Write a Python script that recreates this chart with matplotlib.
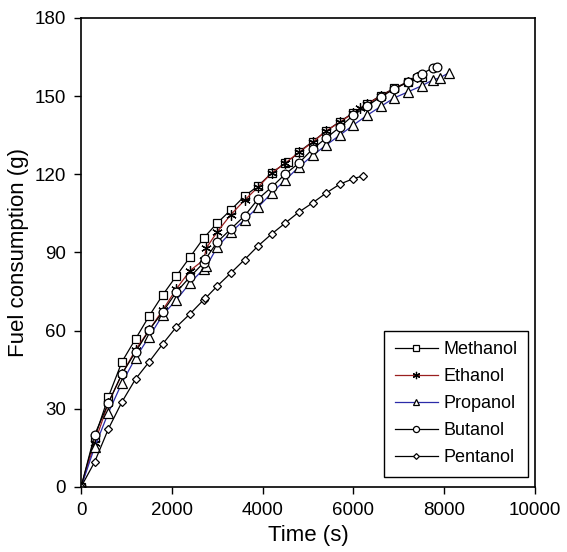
import numpy as np
import matplotlib.pyplot as plt

plt.rcParams['font.family'] = ['Liberation Sans', 'DejaVu Sans']

# Datos (tiempo en s, consumo en g)
t_met = [0, 300, 600, 900, 1200, 1500, 1800, 2100, 2400, 2700, 3000, 3300, 3600,
         3900, 4200, 4500, 4560, 4800, 5100, 5400, 5700, 6000, 6300, 6600, 6900,
         7200, 7500]
c_met = [0, 18.8, 34.5, 48.0, 56.8, 65.6, 73.7, 81.0, 88.2, 95.5, 101.3, 106.3, 111.6,
         115.5, 120.5, 124.3, 124.7, 128.6, 132.5, 136.6, 140.2, 143.6, 147.0, 150.2, 153.0,
         155.5, 157.2]

t_eth = [0, 300, 600, 900, 1200, 1500, 1800, 2100, 2400, 2700, 2760, 3000, 3300, 3600,
         3900, 4200, 4500, 4800, 5100, 5400, 5700, 6000, 6150, 6300, 6600, 6900,
         7200, 7400]
c_eth = [0, 16.9, 32.2, 43.2, 52.6, 60.2, 67.9, 76.0, 83.0, 87.1, 91.7, 97.9, 104.5, 110.0,
         115.1, 120.5, 124.3, 128.4, 132.3, 136.6, 140.0, 143.5, 145.4, 146.9, 150.0, 152.8,
         155.4, 157.3]

t_pro = [0, 300, 600, 900, 1200, 1500, 1800, 2100, 2400, 2700, 2760, 3000, 3300, 3600,
         3900, 4200, 4500, 4800, 5100, 5400, 5700, 6000, 6300, 6600, 6900, 7200,
         7500, 7750, 7900, 8100]
c_pro = [0, 15.3, 28.4, 39.9, 49.5, 57.6, 66.0, 71.8, 78.3, 83.6, 84.6, 92.1, 97.7, 102.5,
         107.4, 112.8, 117.8, 122.8, 127.2, 131.2, 135.0, 138.9, 142.6, 146.0, 149.3, 151.6,
         153.9, 156.2, 157.0, 158.9]

t_but = [0, 300, 600, 900, 1200, 1500, 1800, 2100, 2400, 2700, 2740, 3000, 3300, 3600,
         3900, 4200, 4500, 4800, 5100, 5400, 5700, 6000, 6300, 6600, 6900, 7200,
         7400, 7500, 7750, 7850]
c_but = [0, 20.0, 32.2, 43.4, 51.8, 60.2, 67.2, 74.8, 80.6, 86.0, 87.4, 94.0, 99.0, 104.0,
         110.5, 115.1, 120.1, 124.3, 129.7, 133.9, 138.1, 142.7, 146.2, 149.7, 152.7, 155.4,
         157.3, 158.5, 160.8, 161.2]

t_pen = [0, 300, 600, 900, 1200, 1500, 1800, 2100, 2400, 2700, 2740, 3000, 3300, 3600,
         3900, 4200, 4500, 4800, 5100, 5400, 5700, 6000, 6200]
c_pen = [0, 9.6, 22.2, 32.6, 41.4, 48.0, 54.9, 61.4, 66.4, 71.8, 72.4, 77.1, 82.1, 87.2,
         92.5, 97.1, 101.3, 105.5, 109.0, 112.8, 116.2, 118.3, 119.3]

nombres = ['Methanol', 'Ethanol', 'Propanol', 'Butanol', 'Pentanol']

fig = plt.figure(figsize=(5.67, 5.52), dpi=100)
ax = fig.add_axes([0.143, 0.118, 0.8007, 0.8496])

estilo = dict(markerfacecolor='white', markeredgecolor='black', markeredgewidth=0.9,
              linewidth=0.9)
ax.plot(t_met, c_met, color='black', marker='s', markersize=6.3, label=nombres[0], **estilo)
ax.plot(t_eth, c_eth, color='#9a1f1f', marker=(6, 2, 0), markersize=7.5, label=nombres[1], **estilo)
ax.plot(t_pro, c_pro, color='#2b2ba8', marker='^', markersize=7, label=nombres[2], **estilo)
ax.plot(t_but, c_but, color='black', marker='o', markersize=6.3, label=nombres[3], **estilo)
ax.plot(t_pen, c_pen, color='black', marker='D', markersize=4.2, label=nombres[4], **estilo)

ax.set_xlim(0, 10000)
ax.set_ylim(0, 180)
ax.set_xticks(np.arange(0, 10001, 2000))
ax.set_yticks(np.arange(0, 181, 30))
ax.tick_params(direction='out', length=5, width=1, labelsize=13.5, pad=6)
for s in ax.spines.values():
    s.set_linewidth(1.2)

ax.set_xlabel('Time (s)', fontsize=16, labelpad=4)
ax.set_ylabel('Fuel consumption (g)', fontsize=16, labelpad=4)

leg = ax.legend(loc='lower right', bbox_to_anchor=(0.985, 0.021), borderaxespad=0,
                fontsize=13, fancybox=False, edgecolor='black', framealpha=1,
                handlelength=2.4, handletextpad=0.3, labelspacing=0.55, borderpad=0.6,
                markerscale=0.7)
leg.get_frame().set_linewidth(1.0)

fig.savefig('out.png', dpi=100)
